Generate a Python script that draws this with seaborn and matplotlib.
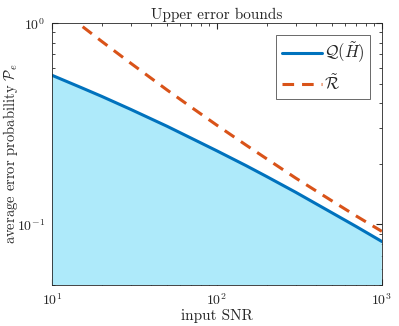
import matplotlib
matplotlib.use("Agg")
import matplotlib.pyplot as plt
import seaborn as sns
import pandas as pd

# values
snr = [10, 15, 20, 30, 50, 70, 100, 150, 200, 300, 500, 700, 1000]
q_bound = [0.551, 0.479, 0.433, 0.373, 0.307, 0.268, 0.232, 0.196, 0.173,
           0.1445, 0.114, 0.0975, 0.0822]
r_bound = [1.265, 0.975, 0.813, 0.633, 0.465, 0.382, 0.311, 0.248, 0.212,
           0.170, 0.1306, 0.110, 0.0923]

sns.set_style("ticks")
plt.rcParams['font.family'] = ['cmr10', 'DejaVu Serif']
plt.rcParams['mathtext.fontset'] = 'cm'
plt.rcParams['axes.formatter.use_mathtext'] = True

df = pd.DataFrame({"snr": snr, "q": q_bound, "r": r_bound})

fig = plt.figure(figsize=(3.99, 3.26), dpi=100)
ax = fig.add_axes([0.130, 0.126, 0.827, 0.803])

ax.fill_between(df["snr"], df["q"], 0.01, color="#AEEAFA", linewidth=0)
sns.lineplot(data=df, x="snr", y="q", ax=ax, color="#0072BD", linewidth=2.2,
             label=r"$\mathcal{Q}(\tilde{H})$")
sns.lineplot(data=df, x="snr", y="r", ax=ax, color="#D95319", linewidth=2.2,
             linestyle=(0, (3.8, 2.6)), label=r"$\tilde{\mathcal{R}}$")

ax.set_xscale("log")
ax.set_yscale("log")
ax.set_xlim(10, 1000)
ax.set_ylim(0.05, 1)

ax.set_title("Upper error bounds", fontsize=11, pad=3)
ax.set_xlabel("input SNR", fontsize=11, labelpad=1)
ax.set_ylabel(r"average error probability $\mathcal{P}_e$", fontsize=10.5)
ax.yaxis.set_label_coords(-0.098, 0.5)

ax.tick_params(which="both", direction="in", top=True, right=True,
               colors="#262626", labelsize=10)
ax.tick_params(which="major", length=4, pad=5)
ax.tick_params(which="minor", length=2)
for s in ax.spines.values():
    s.set_visible(True)
    s.set_color("#262626")
    s.set_linewidth(0.6)

leg = ax.legend(loc="upper right", fontsize=12, frameon=True, fancybox=False,
                handlelength=2.4, handletextpad=0.1, borderpad=0.35,
                labelspacing=0.45, borderaxespad=0.7)
leg.get_frame().set_edgecolor("#262626")
leg.get_frame().set_linewidth(0.6)

fig.savefig("out.png", dpi=100)
plt.close(fig)
